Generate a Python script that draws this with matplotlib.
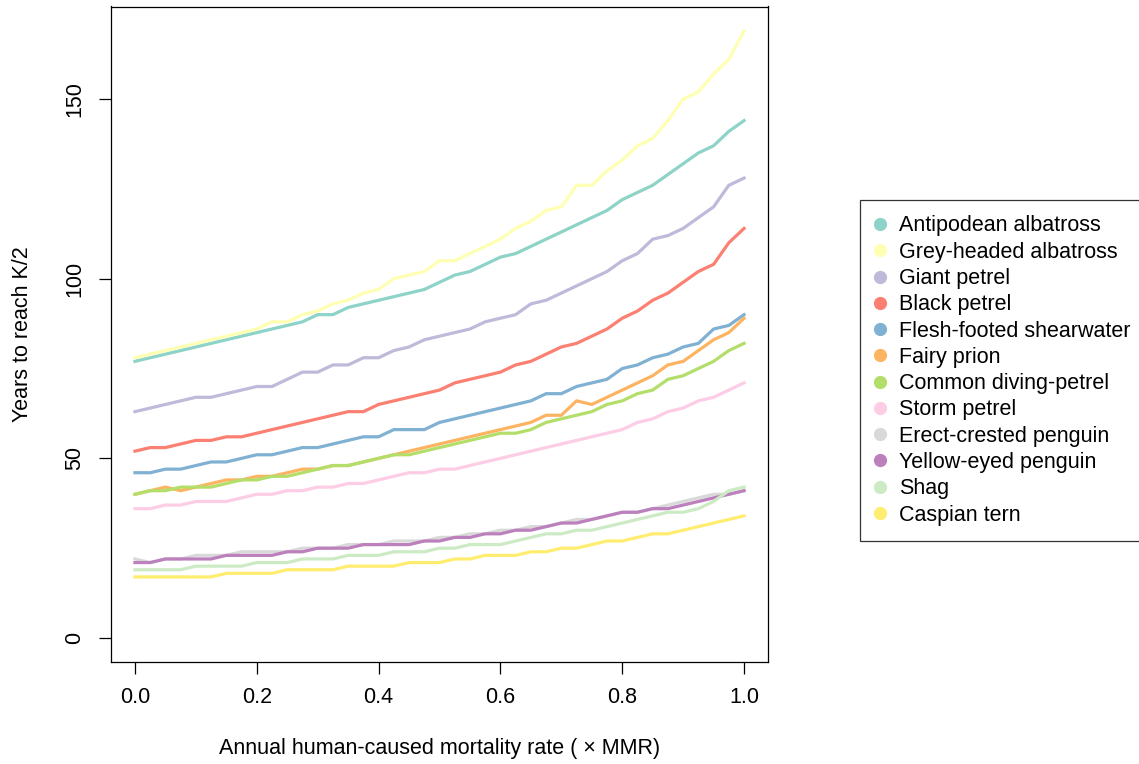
import numpy as np
import matplotlib
matplotlib.use('Agg')
import matplotlib.pyplot as plt
from matplotlib.lines import Line2D

plt.rcParams['font.family'] = ['Liberation Sans', 'DejaVu Sans']

# ── Data ─────────────────────────────────────────────────────────────────────
mmr = np.linspace(0, 1, 41)   # x positions, step 0.025

species = ['Antipodean albatross', 'Grey-headed albatross', 'Giant petrel',
           'Black petrel', 'Flesh-footed shearwater', 'Fairy prion',
           'Common diving-petrel', 'Storm petrel', 'Erect-crested penguin',
           'Yellow-eyed penguin', 'Shag', 'Caspian tern']

colors = ['#8DD3C7', '#FFFFB3', '#BEBADA', '#FB8072', '#80B1D3', '#FDB462',
          '#B3DE69', '#FCCDE5', '#D9D9D9', '#BC80BD', '#CCEBC5', '#FFED6F']

antipodean = [77, 78, 79, 80, 81, 82, 83, 84, 85, 86, 87, 88, 90, 90, 92, 93, 94, 95, 96, 97,
              99, 101, 102, 104, 106, 107, 109, 111, 113, 115, 117, 119, 122, 124, 126, 129,
              132, 135, 137, 141, 144]
grey_headed = [78, 79, 80, 81, 82, 83, 84, 85, 86, 88, 88, 90, 91, 93, 94, 96, 97, 100, 101, 102,
               105, 105, 107, 109, 111, 114, 116, 119, 120, 126, 126, 130, 133, 137, 139, 144,
               150, 152, 157, 161, 169]
giant_petrel = [63, 64, 65, 66, 67, 67, 68, 69, 70, 70, 72, 74, 74, 76, 76, 78, 78, 80, 81, 83,
                84, 85, 86, 88, 89, 90, 93, 94, 96, 98, 100, 102, 105, 107, 111, 112, 114, 117,
                120, 126, 128]
black_petrel = [52, 53, 53, 54, 55, 55, 56, 56, 57, 58, 59, 60, 61, 62, 63, 63, 65, 66, 67, 68,
                69, 71, 72, 73, 74, 76, 77, 79, 81, 82, 84, 86, 89, 91, 94, 96, 99, 102, 104,
                110, 114]
flesh_footed = [46, 46, 47, 47, 48, 49, 49, 50, 51, 51, 52, 53, 53, 54, 55, 56, 56, 58, 58, 58,
                60, 61, 62, 63, 64, 65, 66, 68, 68, 70, 71, 72, 75, 76, 78, 79, 81, 82, 86, 87, 90]
fairy_prion = [40, 41, 42, 41, 42, 43, 44, 44, 45, 45, 46, 47, 47, 48, 48, 49, 50, 51, 52, 53,
               54, 55, 56, 57, 58, 59, 60, 62, 62, 66, 65, 67, 69, 71, 73, 76, 77, 80, 83, 85, 89]
diving_petrel = [40, 41, 41, 42, 42, 42, 43, 44, 44, 45, 45, 46, 47, 48, 48, 49, 50, 51, 51, 52,
                 53, 54, 55, 56, 57, 57, 58, 60, 61, 62, 63, 65, 66, 68, 69, 72, 73, 75, 77, 80, 82]
storm_petrel = [36, 36, 37, 37, 38, 38, 38, 39, 40, 40, 41, 41, 42, 42, 43, 43, 44, 45, 46, 46,
                47, 47, 48, 49, 50, 51, 52, 53, 54, 55, 56, 57, 58, 60, 61, 63, 64, 66, 67, 69, 71]
erect_crested = [22, 21, 22, 22, 23, 23, 23, 24, 24, 24, 24, 25, 25, 25, 26, 26, 26, 27, 27, 27,
                 28, 28, 29, 29, 30, 30, 31, 31, 32, 33, 33, 34, 35, 35, 36, 37, 38, 39, 40, 40, 41]
yellow_eyed = [21, 21, 22, 22, 22, 22, 23, 23, 23, 23, 24, 24, 25, 25, 25, 26, 26, 26, 26, 27,
               27, 28, 28, 29, 29, 30, 30, 31, 32, 32, 33, 34, 35, 35, 36, 36, 37, 38, 39, 40, 41]
shag = [19, 19, 19, 19, 20, 20, 20, 20, 21, 21, 21, 22, 22, 22, 23, 23, 23, 24, 24, 24,
        25, 25, 26, 26, 26, 27, 28, 29, 29, 30, 30, 31, 32, 33, 34, 35, 35, 36, 38, 41, 42]
caspian_tern = [17, 17, 17, 17, 17, 17, 18, 18, 18, 18, 19, 19, 19, 19, 20, 20, 20, 20, 21, 21,
                21, 22, 22, 23, 23, 23, 24, 24, 25, 25, 26, 27, 27, 28, 29, 29, 30, 31, 32, 33, 34]

series = [antipodean, grey_headed, giant_petrel, black_petrel, flesh_footed, fairy_prion,
          diving_petrel, storm_petrel, erect_crested, yellow_eyed, shag, caspian_tern]

# ── Figure ───────────────────────────────────────────────────────────────────
W, H = 1139, 764
fig = plt.figure(figsize=(W / 100, H / 100), dpi=100)
ax = fig.add_axes([110.6 / W, 1 - 662.3 / H, 657.8 / W, 655.8 / H])

for ys, col in zip(series, colors):
    ax.plot(mmr, ys, color=col, lw=2.3, solid_joinstyle='miter')

ymax = max(max(s) for s in series)
ax.set_xlim(-0.04, 1.04)
ax.set_ylim(-0.04 * ymax, ymax * 1.04)
ax.set_xticks([0.0, 0.2, 0.4, 0.6, 0.8, 1.0])
ax.set_xticklabels(['0.0', '0.2', '0.4', '0.6', '0.8', '1.0'])
ax.set_yticks([0, 50, 100, 150])
ax.set_yticklabels(['0', '50', '100', '150'], rotation=90, va='center')

ax.tick_params(axis='both', length=8.5, width=0.9, labelsize=15.5, direction='out')
ax.tick_params(axis='x', pad=9)
ax.tick_params(axis='y', pad=10)
for sp in ax.spines.values():
    sp.set_linewidth(0.9)
    sp.set_color('black')

ax.set_xlabel('Annual human-caused mortality rate ( \u00d7 MMR)', fontsize=15.5, labelpad=22)
ax.set_ylabel('Years to reach K/2', fontsize=15.5, labelpad=22)

# ── Legend ───────────────────────────────────────────────────────────────────
handles = [Line2D([], [], ls='none', marker='o', ms=8.5, color=c) for c in colors]
leg = fig.legend(handles, species, loc='upper left',
                 bbox_to_anchor=(860 / W, 1 - 200 / H), borderaxespad=0,
                 fontsize=15.5, frameon=True, fancybox=False, edgecolor='black',
                 labelspacing=0.245, handlelength=0.4, handletextpad=0.69,
                 borderpad=0.72)
leg.get_frame().set_linewidth(0.9)

fig.savefig('out.png', dpi=100)
